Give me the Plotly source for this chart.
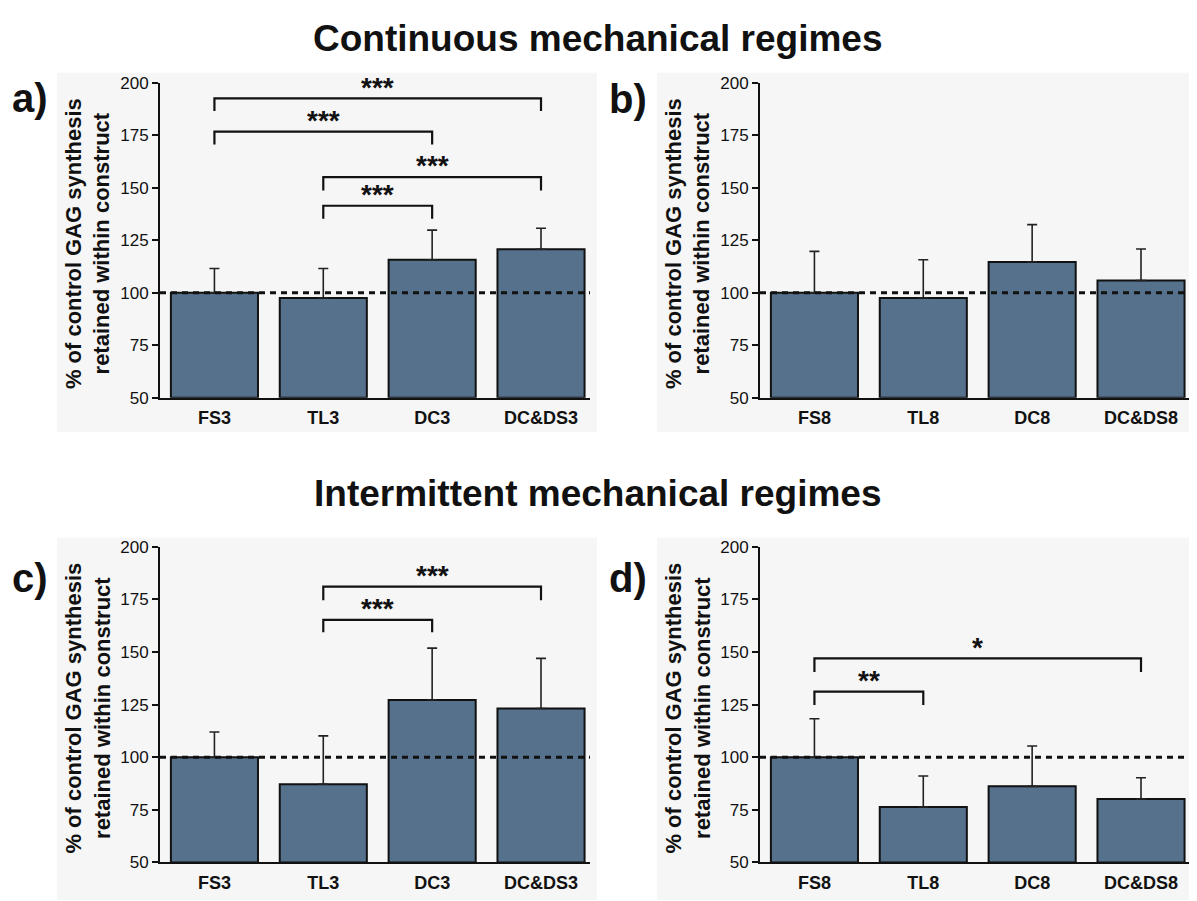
import plotly.graph_objects as go

W, H = 1197, 901
OX, OY = 8, 8  # page body margin compensation

# ---------------- data ----------------
cats_3 = ["FS3", "TL3", "DC3", "DC&DS3"]
cats_8 = ["FS8", "TL8", "DC8", "DC&DS8"]

mean_a = [100, 97.5, 115.7, 120.7]
upper_a = [111.5, 111.5, 129.8, 130.7]
mean_b = [100, 97.5, 114.6, 105.8]
upper_b = [119.7, 115.7, 132.4, 120.8]
mean_c = [100, 87.2, 127.2, 123.2]
upper_c = [112, 110.2, 151.9, 147]
mean_d = [100, 76.4, 86.2, 80.2]
upper_d = [118.3, 91.1, 105.4, 90.3]

# brackets: (left, right, bar y, leg bottom y, star y, label)
brackets_a = [
    ("FS3", "DC&DS3", 192.5, 186.5, 197.5, "***"),
    ("FS3", "DC3", 176.7, 170.5, 182.0, "***"),
    ("TL3", "DC&DS3", 155.0, 148.7, 160.5, "***"),
    ("TL3", "DC3", 141.4, 135.2, 146.8, "***"),
]
brackets_b = []
brackets_c = [
    ("TL3", "DC&DS3", 181.1, 174.6, 186.5, "***"),
    ("TL3", "DC3", 165.3, 159.4, 170.8, "***"),
]
brackets_d = [
    ("FS8", "DC&DS8", 147.0, 140.5, 152.0, "*"),
    ("FS8", "TL8", 131.2, 124.9, 136.5, "**"),
]

y_ticks = [50, 75, 100, 125, 150, 175, 200]
y_title = "% of control GAG synthesis<br>retained within construct"
titles = ["Continuous mechanical regimes", "Intermittent mechanical regimes"]

BAR = "#55718b"
FONT = "Liberation Sans"

panels = [
    dict(cats=cats_3, mean=mean_a, upper=upper_a, br=brackets_a, label="a)",
         xdom=(160, 590), ydom=(397, 75), bg=(57, 65, 597, 432), lab_xy=(30, 91)),
    dict(cats=cats_8, mean=mean_b, upper=upper_b, br=brackets_b, label="b)",
         xdom=(760, 1190), ydom=(397, 75), bg=(657, 65, 1205, 432), lab_xy=(628, 92)),
    dict(cats=cats_3, mean=mean_c, upper=upper_c, br=brackets_c, label="c)",
         xdom=(160, 590), ydom=(871.7, 549.3), bg=(57, 540, 597, 910), lab_xy=(30, 581)),
    dict(cats=cats_8, mean=mean_d, upper=upper_d, br=brackets_d, label="d)",
         xdom=(760, 1190), ydom=(871.7, 549.3), bg=(657, 540, 1205, 910), lab_xy=(628, 581)),
]

fig = go.Figure()
shapes = []
annotations = []
layout_axes = {}


def px(x):
    return (x - OX) / W


def py(y):
    return 1 - (y - OY) / H


for i, p in enumerate(panels):
    n = "" if i == 0 else str(i + 1)
    xa, ya = "x" + n, "y" + n
    err = [u - m for u, m in zip(p["upper"], p["mean"])]
    fig.add_trace(go.Bar(
        x=p["cats"], y=[m - 50 for m in p["mean"]], base=50,
        xaxis=xa, yaxis=ya,
        marker=dict(color=BAR, line=dict(color="#111111", width=2)),
        width=0.8,
        error_y=dict(type="data", array=err, arrayminus=[0] * 4, symmetric=False,
                     color="#222222", thickness=1.6, width=5),
        showlegend=False, hoverinfo="x+y",
    ))
    for (l, r, yb, yl, ys, lab) in p["br"]:
        fig.add_trace(go.Scatter(
            x=[l, l, r, r], y=[yl, yb, yb, yl], mode="lines",
            line=dict(color="#111111", width=2.2), xaxis=xa, yaxis=ya,
            showlegend=False, hoverinfo="skip",
        ))
        li, ri = p["cats"].index(l), p["cats"].index(r)
        annotations.append(dict(
            x=(li + ri) / 2, y=ys, xref=xa, yref=ya, text="<b>%s</b>" % lab,
            showarrow=False, xanchor="center", yanchor="middle",
            font=dict(family=FONT, size=28, color="#111111"),
        ))
    # dashed control line
    shapes.append(dict(type="line", xref=xa, yref=ya, x0=-0.5, x1=3.45, y0=100, y1=100,
                       line=dict(color="#111111", width=3, dash="6px,5px"), layer="above"))
    # panel background
    bx0, by0, bx1, by1 = p["bg"]
    shapes.append(dict(type="rect", xref="paper", yref="paper",
                       x0=px(bx0), x1=px(bx1), y0=py(by1), y1=py(by0),
                       fillcolor="#f6f6f6", line=dict(width=0), layer="below"))
    layout_axes["xaxis" + n] = dict(
        domain=[px(p["xdom"][0]), px(p["xdom"][1])], anchor=ya,
        range=[-0.5, 3.45], type="category", categoryorder="array", categoryarray=p["cats"],
        showline=True, linecolor="#111111", linewidth=2, ticks="", showgrid=False,
        zeroline=False, fixedrange=True, ticklabelstandoff=3,
        tickfont=dict(family=FONT, size=18, color="#111111", weight="bold"),
    )
    layout_axes["yaxis" + n] = dict(
        domain=[py(p["ydom"][0]), py(p["ydom"][1])], anchor=xa,
        range=[50, 200], tickvals=y_ticks, showline=True, linecolor="#111111",
        linewidth=2, ticks="outside", ticklen=6, tickwidth=2, tickcolor="#111111",
        showgrid=False, zeroline=False, fixedrange=True,
        tickfont=dict(family=FONT, size=17, color="#111111"),
    )
    # y title
    x_axis_px = p["xdom"][0]
    annotations.append(dict(
        x=px(x_axis_px - 72), y=py((p["ydom"][0] + p["ydom"][1]) / 2 + 4),
        xref="paper", yref="paper", xanchor="center", yanchor="middle",
        text="<b>%s</b>" % y_title, textangle=-90, showarrow=False,
        font=dict(family=FONT, size=22, color="#111111"), align="center",
    ))
    # panel label
    lx, ly = p["lab_xy"]
    annotations.append(dict(
        x=px(lx), y=py(ly), xref="paper", yref="paper",
        text="<b>%s</b>" % p["label"], showarrow=False, xanchor="center", yanchor="middle",
        font=dict(family=FONT, size=40, color="#111111"),
    ))

annotations.append(dict(x=px(598), y=py(30), xref="paper", yref="paper",
                        xanchor="center", yanchor="middle",
                        text="<b>%s</b>" % titles[0], showarrow=False,
                        font=dict(family=FONT, size=37, color="#111111")))
annotations.append(dict(x=px(598), y=py(495), xref="paper", yref="paper",
                        xanchor="center", yanchor="middle",
                        text="<b>%s</b>" % titles[1], showarrow=False,
                        font=dict(family=FONT, size=37, color="#111111")))

fig.update_layout(
    width=W, height=H, margin=dict(l=0, r=0, t=0, b=0),
    paper_bgcolor="white", plot_bgcolor="rgba(0,0,0,0)",
    shapes=shapes, annotations=annotations, bargap=0.2,
    **layout_axes,
)

fig.write_html("out.html")
